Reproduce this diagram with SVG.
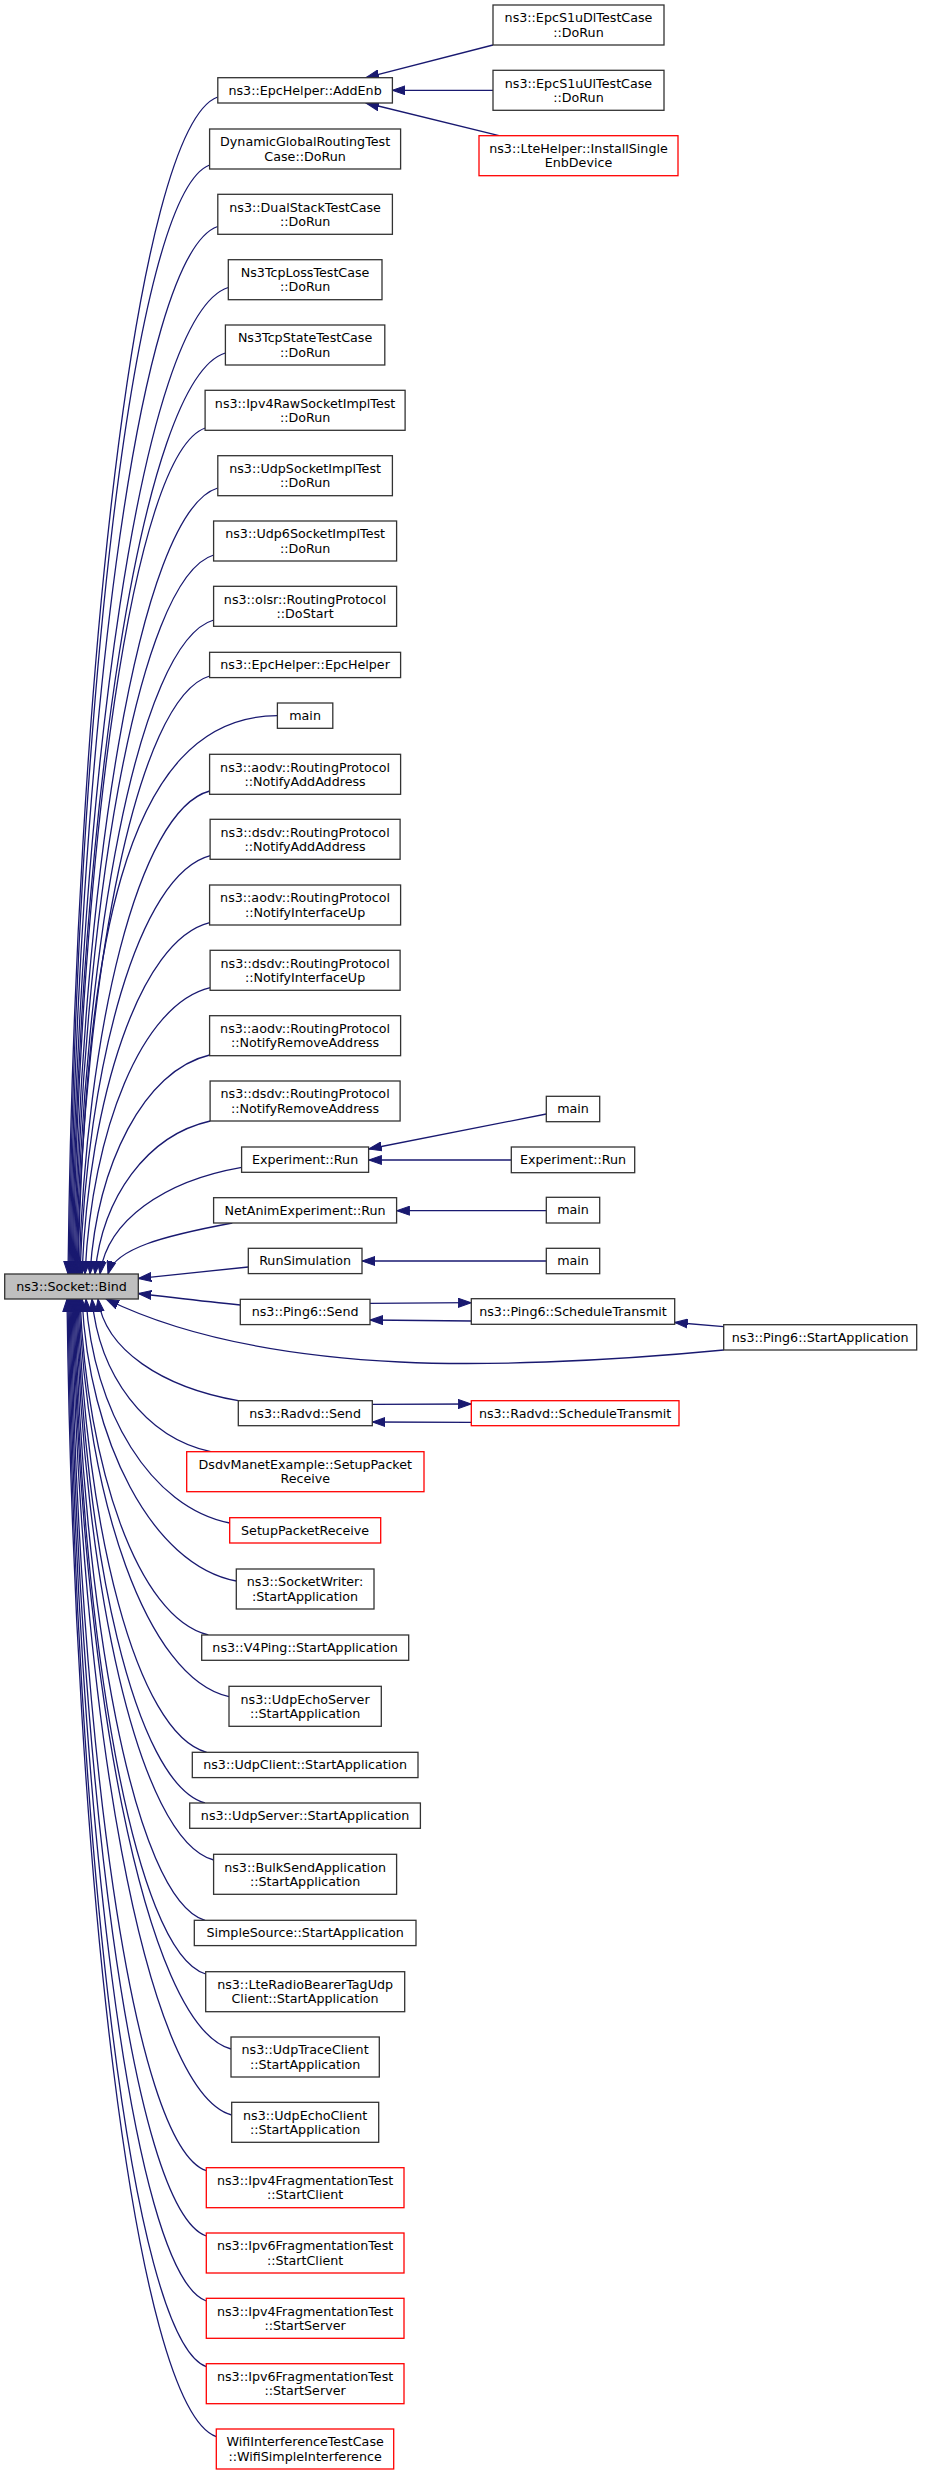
<svg xmlns="http://www.w3.org/2000/svg" width="939" height="2475" viewBox="0 0 939 2475">
<defs>
<style>
.n rect{fill:#fff;stroke:#333;stroke-width:1.3}
.r rect{stroke:#f00}
.b rect{fill:#bfbfbf}
text{font-family:"DejaVu Sans","Liberation Sans",sans-serif;font-size:12.7px;text-anchor:middle;fill:#000}
#edges path{fill:none;stroke:#191970;stroke-width:1.3;marker-end:url(#ah)}
</style>
<marker id="ah" markerUnits="userSpaceOnUse" markerWidth="14" markerHeight="10" viewBox="0 0 14 10" refX="13" refY="5" orient="auto"><path d="M0,0.5 L13,5 L0,9.5 z" fill="#191970" stroke="#191970" stroke-width="1"/></marker>
</defs>
<rect width="939" height="2475" fill="#fff"/>
<g id="edges">
<path d="M217.7,97 C135.4,126.7 75,685.5 68,1274"/>
<path d="M209.7,165 C132.3,193.6 76,719.5 69,1274"/>
<path d="M217.7,226.5 C136.5,254.2 77,750.3 70,1274"/>
<path d="M228.3,287.5 C141.8,314.3 78,780.8 71,1274"/>
<path d="M225.3,353 C141,378.8 79,813.5 72,1274"/>
<path d="M205.3,428 C132.5,452.7 80,851 73,1274"/>
<path d="M217.7,488 C138.7,511.8 81,881 74,1274"/>
<path d="M213.7,555 C137.4,577.8 82,914.5 75,1274"/>
<path d="M213.7,620 C138,641.8 83,947 76,1274"/>
<path d="M209.7,676 C136.7,697 84,975 77,1274"/>
<path d="M277.3,715.7 C120,716 85,960 78,1274"/>
<path d="M209.7,791 C137.8,810.2 86,1032.5 79,1274"/>
<path d="M210.3,855.7 C138.6,874 87,1064.9 80,1274"/>
<path d="M209.7,922.7 C139.5,940 89,1098.4 82,1274"/>
<path d="M210.3,987.7 C141.4,1004 92,1130.9 85,1274"/>
<path d="M209.7,1055 C143.9,1070.3 97,1164.5 90,1274"/>
<path d="M210.3,1121 C146.9,1135.3 102,1197.5 95,1274"/>
<path d="M241.7,1167.3 C163.8,1180.9 107,1220.7 100,1274"/>
<path d="M232.3,1223 C163.9,1235.8 115,1248.5 108,1274"/>
<path d="M248.3,1267 C200,1272 170,1275 138.3,1278.5"/>
<path d="M240.3,1305 C200,1301 170,1297 138.3,1293.5"/>
<path d="M723.7,1350 C600,1362 480,1366 400,1362 C320,1358 200,1345 106,1299"/>
<path d="M238.3,1400.7 C162.2,1387.2 105,1349.9 98,1299"/>
<path d="M210.7,1451.7 C145.4,1437.4 99,1375.4 92,1299"/>
<path d="M229.7,1523 C150.7,1507.6 93,1411 86,1299"/>
<path d="M236.3,1581 C151.4,1564.8 89,1440 82,1299"/>
<path d="M208.3,1635 C137.7,1618 87,1467 80,1299"/>
<path d="M229,1696.7 C146.5,1678.7 86,1497.9 79,1299"/>
<path d="M206.7,1752.3 C135.9,1733.5 85,1525.7 78,1299"/>
<path d="M205,1803 C134.6,1783.4 84,1551 77,1299"/>
<path d="M213.7,1860 C137.9,1839.6 83,1579.5 76,1299"/>
<path d="M205,1920.3 C133.5,1899 82,1609.7 75,1299"/>
<path d="M205.7,1974 C133.3,1951.9 81,1636.5 74,1299"/>
<path d="M231,2049 C144.1,2025.7 80,1674 73,1299"/>
<path d="M231.7,2115 C143.9,2090.8 79,1707 72,1299"/>
<path d="M206.3,2170.7 C131.9,2145.6 78,1734.9 71,1299"/>
<path d="M206.3,2236 C131.3,2209.9 77,1767.5 70,1299"/>
<path d="M206.3,2301 C130.8,2274 76,1800 69,1299"/>
<path d="M206.3,2366.7 C130.2,2338.7 75,1832.9 68,1299"/>
<path d="M216.3,2436.7 C134.2,2407.6 74,1867.9 67,1299"/>
<path d="M493,45 L366,77.7"/>
<path d="M493,90.3 L392.3,90.3"/>
<path d="M499,135.7 L366,103"/>
<path d="M546.3,1114 L368.7,1149"/>
<path d="M511.3,1160 L368.7,1160"/>
<path d="M546.3,1210.7 L396.7,1210.7"/>
<path d="M546.3,1261 L362,1261"/>
<path d="M370,1303.3 L471.3,1302.7"/>
<path d="M471.3,1321 L370,1320"/>
<path d="M723.7,1326.7 L674.7,1322.5"/>
<path d="M372.3,1404.3 L471.3,1404"/>
<path d="M471.3,1422.3 L372.3,1422"/>
</g>
<g id="bind" class="n b"><rect x="4.7" y="1274" width="133.6" height="25"/><text x="71.5" y="1290.8">ns3::Socket::Bind</text></g>
<g id="addenb" class="n"><rect x="217.8" y="77.7" width="174.6" height="25.3"/><text x="305.1" y="94.6">ns3::EpcHelper::AddEnb</text></g>
<g id="dynglobal" class="n"><rect x="209.6" y="129" width="191" height="40"/><text x="305.1" y="146.2">DynamicGlobalRoutingTest</text><text x="305.1" y="160.5">Case::DoRun</text></g>
<g id="dualstack" class="n"><rect x="217.8" y="194.3" width="174.6" height="40"/><text x="305.1" y="211.5">ns3::DualStackTestCase</text><text x="305.1" y="225.8">::DoRun</text></g>
<g id="tcploss" class="n"><rect x="228.3" y="259.7" width="153.7" height="40"/><text x="305.1" y="276.9">Ns3TcpLossTestCase</text><text x="305.1" y="291.2">::DoRun</text></g>
<g id="tcpstate" class="n"><rect x="225.4" y="325" width="159.4" height="40"/><text x="305.1" y="342.2">Ns3TcpStateTestCase</text><text x="305.1" y="356.5">::DoRun</text></g>
<g id="ipv4raw" class="n"><rect x="205.1" y="390.3" width="200" height="40"/><text x="305.1" y="407.5">ns3::Ipv4RawSocketImplTest</text><text x="305.1" y="421.8">::DoRun</text></g>
<g id="udpsock" class="n"><rect x="217.8" y="455.7" width="174.6" height="40"/><text x="305.1" y="472.9">ns3::UdpSocketImplTest</text><text x="305.1" y="487.2">::DoRun</text></g>
<g id="udp6sock" class="n"><rect x="213.6" y="521" width="183" height="40"/><text x="305.1" y="538.2">ns3::Udp6SocketImplTest</text><text x="305.1" y="552.5">::DoRun</text></g>
<g id="olsr" class="n"><rect x="213.6" y="586.3" width="183" height="40"/><text x="305.1" y="603.5">ns3::olsr::RoutingProtocol</text><text x="305.1" y="617.8">::DoStart</text></g>
<g id="epchelper" class="n"><rect x="209.6" y="652.3" width="191" height="25.3"/><text x="305.1" y="669.2">ns3::EpcHelper::EpcHelper</text></g>
<g id="main0" class="n"><rect x="277.4" y="703" width="55.4" height="25.3"/><text x="305.1" y="719.9">main</text></g>
<g id="aodvadd" class="n"><rect x="209.6" y="754.3" width="191" height="40"/><text x="305.1" y="771.5">ns3::aodv::RoutingProtocol</text><text x="305.1" y="785.8">::NotifyAddAddress</text></g>
<g id="dsdvadd" class="n"><rect x="210.1" y="819.3" width="190" height="40"/><text x="305.1" y="836.5">ns3::dsdv::RoutingProtocol</text><text x="305.1" y="850.8">::NotifyAddAddress</text></g>
<g id="aodvifup" class="n"><rect x="209.6" y="885" width="191" height="40"/><text x="305.1" y="902.2">ns3::aodv::RoutingProtocol</text><text x="305.1" y="916.5">::NotifyInterfaceUp</text></g>
<g id="dsdvifup" class="n"><rect x="210.1" y="950.3" width="190" height="40"/><text x="305.1" y="967.5">ns3::dsdv::RoutingProtocol</text><text x="305.1" y="981.8">::NotifyInterfaceUp</text></g>
<g id="aodvrem" class="n"><rect x="209.6" y="1015.7" width="191" height="40"/><text x="305.1" y="1032.9">ns3::aodv::RoutingProtocol</text><text x="305.1" y="1047.2">::NotifyRemoveAddress</text></g>
<g id="dsdvrem" class="n"><rect x="210.1" y="1081" width="190" height="40"/><text x="305.1" y="1098.2">ns3::dsdv::RoutingProtocol</text><text x="305.1" y="1112.5">::NotifyRemoveAddress</text></g>
<g id="exprun" class="n"><rect x="241.6" y="1147" width="127" height="25.3"/><text x="305.1" y="1163.9">Experiment::Run</text></g>
<g id="netanim" class="n"><rect x="213.6" y="1197.7" width="183" height="25.3"/><text x="305.1" y="1214.6">NetAnimExperiment::Run</text></g>
<g id="runsim" class="n"><rect x="248.3" y="1248.3" width="113.7" height="25.3"/><text x="305.1" y="1265.2">RunSimulation</text></g>
<g id="ping6send" class="n"><rect x="240.3" y="1299.3" width="129.7" height="25.3"/><text x="305.1" y="1316.2">ns3::Ping6::Send</text></g>
<g id="radvdsend" class="n"><rect x="238.3" y="1400.7" width="134" height="25"/><text x="305.1" y="1417.5">ns3::Radvd::Send</text></g>
<g id="dsdvmanet" class="n r"><rect x="186.7" y="1451.7" width="237.3" height="40"/><text x="305.3" y="1468.9">DsdvManetExample::SetupPacket</text><text x="305.3" y="1483.2">Receive</text></g>
<g id="setuppkt" class="n r"><rect x="229.7" y="1517.7" width="151" height="25.3"/><text x="305.1" y="1534.6">SetupPacketReceive</text></g>
<g id="sockwriter" class="n"><rect x="236.3" y="1569" width="137.7" height="40"/><text x="305.1" y="1586.2">ns3::SocketWriter:</text><text x="305.1" y="1600.5">:StartApplication</text></g>
<g id="v4ping" class="n"><rect x="201.7" y="1635" width="207" height="25.3"/><text x="305.1" y="1651.9">ns3::V4Ping::StartApplication</text></g>
<g id="udpechoserver" class="n"><rect x="229" y="1686.3" width="152.3" height="40"/><text x="305.1" y="1703.5">ns3::UdpEchoServer</text><text x="305.1" y="1717.8">::StartApplication</text></g>
<g id="udpclient" class="n"><rect x="192.3" y="1752.3" width="225.7" height="25.3"/><text x="305.1" y="1769.2">ns3::UdpClient::StartApplication</text></g>
<g id="udpserver" class="n"><rect x="189.7" y="1803" width="230.7" height="25.3"/><text x="305.1" y="1819.9">ns3::UdpServer::StartApplication</text></g>
<g id="bulksend" class="n"><rect x="213.6" y="1854.3" width="183" height="40"/><text x="305.1" y="1871.5">ns3::BulkSendApplication</text><text x="305.1" y="1885.8">::StartApplication</text></g>
<g id="simplesource" class="n"><rect x="194.3" y="1920.3" width="221.7" height="25.3"/><text x="305.1" y="1937.2">SimpleSource::StartApplication</text></g>
<g id="lteradio" class="n"><rect x="205.7" y="1971.7" width="199" height="40"/><text x="305.1" y="1988.9">ns3::LteRadioBearerTagUdp</text><text x="305.1" y="2003.2">Client::StartApplication</text></g>
<g id="udptrace" class="n"><rect x="231" y="2037" width="148.3" height="40"/><text x="305.1" y="2054.2">ns3::UdpTraceClient</text><text x="305.1" y="2068.5">::StartApplication</text></g>
<g id="udpechoclient" class="n"><rect x="231.7" y="2102.3" width="147" height="40"/><text x="305.1" y="2119.5">ns3::UdpEchoClient</text><text x="305.1" y="2133.8">::StartApplication</text></g>
<g id="ipv4fragclient" class="n r"><rect x="206.3" y="2167.7" width="197.7" height="40"/><text x="305.1" y="2184.9">ns3::Ipv4FragmentationTest</text><text x="305.1" y="2199.2">::StartClient</text></g>
<g id="ipv6fragclient" class="n r"><rect x="206.3" y="2233" width="197.7" height="40"/><text x="305.1" y="2250.2">ns3::Ipv6FragmentationTest</text><text x="305.1" y="2264.5">::StartClient</text></g>
<g id="ipv4fragserver" class="n r"><rect x="206.3" y="2298.3" width="197.7" height="40"/><text x="305.1" y="2315.5">ns3::Ipv4FragmentationTest</text><text x="305.1" y="2329.8">::StartServer</text></g>
<g id="ipv6fragserver" class="n r"><rect x="206.3" y="2363.7" width="197.7" height="40"/><text x="305.1" y="2380.9">ns3::Ipv6FragmentationTest</text><text x="305.1" y="2395.2">::StartServer</text></g>
<g id="wifi" class="n r"><rect x="216.3" y="2429" width="177.4" height="40"/><text x="305.1" y="2446.2">WifiInterferenceTestCase</text><text x="305.1" y="2460.5">::WifiSimpleInterference</text></g>
<g id="epcs1udl" class="n"><rect x="493" y="5" width="171" height="40"/><text x="578.5" y="22.2">ns3::EpcS1uDlTestCase</text><text x="578.5" y="36.5">::DoRun</text></g>
<g id="epcs1uul" class="n"><rect x="493" y="70.3" width="171" height="40"/><text x="578.5" y="87.5">ns3::EpcS1uUlTestCase</text><text x="578.5" y="101.8">::DoRun</text></g>
<g id="ltehelper" class="n r"><rect x="479" y="135.7" width="199" height="40"/><text x="578.5" y="152.9">ns3::LteHelper::InstallSingle</text><text x="578.5" y="167.2">EnbDevice</text></g>
<g id="main1" class="n"><rect x="546.3" y="1096.3" width="53.4" height="25.4"/><text x="573" y="1113.3">main</text></g>
<g id="exprun2" class="n"><rect x="511.3" y="1147" width="123.4" height="25.7"/><text x="573" y="1164.1">Experiment::Run</text></g>
<g id="main2" class="n"><rect x="546.3" y="1197.3" width="53.4" height="25.7"/><text x="573" y="1214.4">main</text></g>
<g id="main3" class="n"><rect x="546.3" y="1248.3" width="53.4" height="25.4"/><text x="573" y="1265.3">main</text></g>
<g id="ping6sched" class="n"><rect x="471.3" y="1298.7" width="203.4" height="25.6"/><text x="573" y="1315.8">ns3::Ping6::ScheduleTransmit</text></g>
<g id="ping6start" class="n"><rect x="723.7" y="1324.7" width="193" height="25.3"/><text x="820.2" y="1341.6">ns3::Ping6::StartApplication</text></g>
<g id="radvdsched" class="n r"><rect x="471.3" y="1400.7" width="207.7" height="25"/><text x="575.1" y="1417.5">ns3::Radvd::ScheduleTransmit</text></g>
</svg>
